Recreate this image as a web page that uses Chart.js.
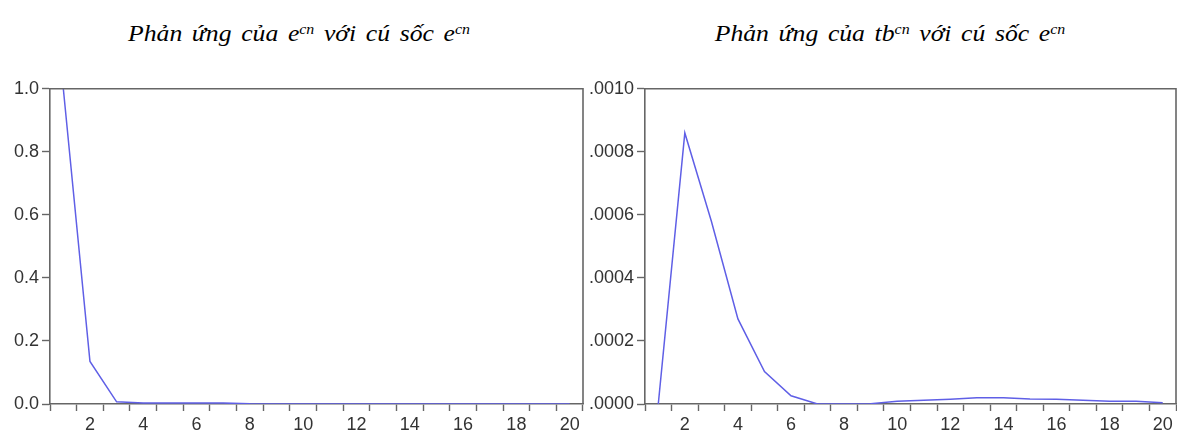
<!DOCTYPE html>
<html>
<head>
<meta charset="utf-8">
<script src="https://cdn.jsdelivr.net/npm/chart.js@4.4.1/dist/chart.umd.min.js"></script>
<style>
  html, body { margin: 0; padding: 0; background: #fff; }
  body { width: 1177px; height: 434px; position: relative; overflow: hidden; }
  .title {
    position: absolute; top: 18px; font-family: "Liberation Serif", "Times New Roman", serif;
    font-style: italic; font-size: 24px; color: #000; white-space: nowrap;
    word-spacing: 3px; line-height: 30px;
    transform: translateX(-50%) scaleX(1.07);
  }
  .title sup { font-size: 0.62em; vertical-align: 0; position: relative; top: -0.5em; word-spacing: 0; }
  .panel { position: absolute; top: 75px; height: 359px; }
</style>
</head>
<body>
<div class="title" style="left:299px">Phản ứng của e<sup>cn</sup> với cú sốc e<sup>cn</sup></div>
<div class="title" style="left:890px">Phản ứng của tb<sup>cn</sup> với cú sốc e<sup>cn</sup></div>
<div class="panel" style="left:0px; width:584px"><canvas id="c1"></canvas></div>
<div class="panel" style="left:590px; width:587px"><canvas id="c2"></canvas></div>
<script>
// Periods after the shock
const periods = Array.from({ length: 20 }, (_, i) => String(i + 1));

// Response of e^cn to a shock in e^cn
const responseE = [1.0, 0.135, 0.007, 0.003, 0.003, 0.003, 0.003, 0.0005, 0, 0,
                   0, 0, 0, 0, 0, 0, 0, 0, 0, 0];

// Response of tb^cn to a shock in e^cn
const responseTB = [0, 0.00086, 0.00058, 0.00027, 0.000103, 0.000026, 0, 0, 0.000001, 0.000009,
                    0.000012, 0.000015, 0.0000195, 0.0000195, 0.000016, 0.000015, 0.000012, 0.000009, 0.000009, 0.000004];

// Y-axis tick settings
const leftY = { min: 0, max: 1.0, step: 0.2 };
const rightY = { min: 0, max: 0.0010, step: 0.0002 };

const axisColor = '#666666';
const lineColor = '#5f5fe6';
const tickFont = { family: '"Liberation Sans", Arial, sans-serif', size: 18 };

// Draws the closed box around the plotting area
const frame = {
  id: 'frame',
  afterDraw(chart) {
    const { ctx, chartArea: a } = chart;
    ctx.save();
    ctx.strokeStyle = axisColor;
    ctx.lineWidth = 1.6;
    ctx.beginPath();
    ctx.moveTo(a.left, a.top);
    ctx.lineTo(a.right, a.top);
    ctx.lineTo(a.right, a.bottom);
    ctx.stroke();
    ctx.restore();
  }
};

function makeChart(id, values, yCfg, yWidth, fmt) {
  return new Chart(document.getElementById(id), {
    type: 'line',
    data: {
      labels: periods,
      datasets: [{
        data: values,
        borderColor: lineColor,
        borderWidth: 1.5,
        pointRadius: 0,
        tension: 0,
        fill: false
      }]
    },
    options: {
      responsive: true,
      maintainAspectRatio: false,
      animation: false,
      layout: { padding: { top: 10, right: 1, left: 0, bottom: 0 } },
      plugins: { legend: { display: false }, tooltip: { enabled: false } },
      scales: {
        x: {
          type: 'category',
          offset: true,
          grid: {
            offset: true,
            drawOnChartArea: false,
            drawTicks: true,
            tickLength: 7,
            tickWidth: 1.4,
            tickColor: axisColor
          },
          border: { color: axisColor, width: 1.6 },
          ticks: {
            autoSkip: false,
            maxRotation: 0,
            padding: 3,
            color: '#333',
            font: tickFont,
            callback: (v, i) => ((i + 1) % 2 === 0 ? periods[i] : '')
          },
          afterFit(s) { s.height = 30; }
        },
        y: {
          min: yCfg.min,
          max: yCfg.max,
          grid: {
            drawOnChartArea: false,
            drawTicks: true,
            tickLength: 8,
            tickWidth: 1.4,
            tickColor: axisColor
          },
          border: { color: axisColor, width: 1.6 },
          ticks: {
            stepSize: yCfg.step,
            padding: 3,
            color: '#333',
            font: tickFont,
            callback: fmt
          },
          afterFit(s) { s.width = yWidth; }
        }
      }
    },
    plugins: [frame]
  });
}

makeChart('c1', responseE, leftY, 50, v => Number(v).toFixed(1));
makeChart('c2', responseTB, rightY, 55, v => Number(v).toFixed(4).replace(/^0/, ''));
</script>
</body>
</html>
